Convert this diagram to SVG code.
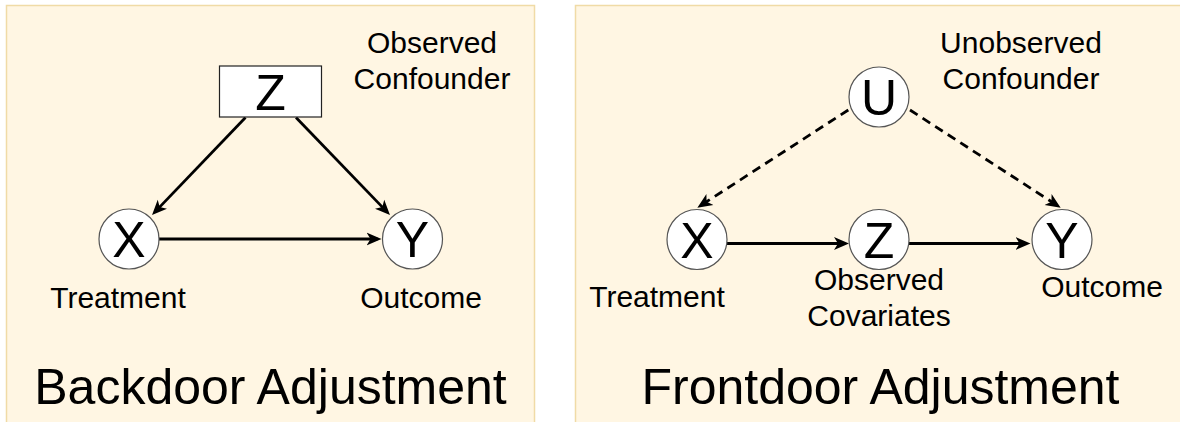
<svg xmlns="http://www.w3.org/2000/svg" width="1180" height="422" viewBox="0 0 1180 422">
  <style>
    .panel { fill: #fff6e3; stroke: #f0dba6; stroke-width: 1.5; }
    .node { fill: #ffffff; stroke: #555555; stroke-width: 1.2; }
    .box { fill: #ffffff; stroke: #222222; stroke-width: 1.2; }
    .var { font-family: "Liberation Sans", Arial, sans-serif; font-size: 50px; fill: #000; text-anchor: middle; }
    .lbl { font-family: "Liberation Sans", Arial, sans-serif; font-size: 30px; fill: #000; text-anchor: middle; }
    .title { font-family: "Liberation Sans", Arial, sans-serif; font-size: 50px; fill: #000; text-anchor: middle; }
    .edge { stroke: #000; stroke-width: 2.8; fill: none; marker-end: url(#arrow); }
    .dashed { stroke-dasharray: 9 6; }
  </style>
  <defs>
    <marker id="arrow" markerUnits="userSpaceOnUse" markerWidth="16" markerHeight="14" viewBox="0 0 16 14" refX="11" refY="7" orient="auto">
      <path d="M0,0.5 L15,7 L0,13.5 L4,7 Z" fill="#000"/>
    </marker>
  </defs>

  <rect width="1180" height="422" fill="#ffffff"/>

  <g id="panel-backdoor">
    <rect class="panel" x="6.5" y="5.5" width="528" height="440"/>
    <text class="title" x="270.5" y="404">Backdoor Adjustment</text>
  </g>
  <g id="panel-frontdoor">
    <rect class="panel" x="575.5" y="5.5" width="640" height="440"/>
    <text class="title" x="880.5" y="404">Frontdoor Adjustment</text>
  </g>

  <g id="connectors">
    <line class="edge" x1="245.5" y1="117.5" x2="154.8" y2="212.1"/>
    <line class="edge" x1="296" y1="117.5" x2="387.2" y2="212.1"/>
    <line class="edge" x1="159" y1="239" x2="377.5" y2="239"/>
    <line class="edge" x1="727" y1="243.5" x2="845" y2="243.5"/>
    <line class="edge" x1="909" y1="243.5" x2="1026.5" y2="243.5"/>
    <line class="edge dashed" x1="848.3" y1="110" x2="700.7" y2="205.5"/>
    <line class="edge dashed" x1="910" y1="110" x2="1057.3" y2="205.5"/>
  </g>

  <g id="bd-Z">
    <rect class="box" x="219.5" y="66" width="102" height="51"/>
    <text class="var" x="270.5" y="110">Z</text>
    <text class="lbl" x="432" y="53">Observed</text>
    <text class="lbl" x="432" y="89">Confounder</text>
  </g>
  <g id="bd-X">
    <circle class="node" cx="129" cy="239" r="30"/>
    <text class="var" x="129" y="257">X</text>
    <text class="lbl" x="118" y="307.5">Treatment</text>
  </g>
  <g id="bd-Y">
    <circle class="node" cx="412.5" cy="239" r="30"/>
    <text class="var" x="412.5" y="257">Y</text>
    <text class="lbl" x="421" y="307.5">Outcome</text>
  </g>

  <g id="fd-U">
    <circle class="node" cx="879" cy="97" r="30"/>
    <text class="var" x="879" y="115">U</text>
    <text class="lbl" x="1021" y="53">Unobserved</text>
    <text class="lbl" x="1021" y="89">Confounder</text>
  </g>
  <g id="fd-X">
    <circle class="node" cx="697" cy="239.5" r="30"/>
    <text class="var" x="697" y="257.5">X</text>
    <text class="lbl" x="657" y="307">Treatment</text>
  </g>
  <g id="fd-Z">
    <circle class="node" cx="879" cy="239.5" r="30"/>
    <text class="var" x="879" y="257.5">Z</text>
    <text class="lbl" x="879" y="290">Observed</text>
    <text class="lbl" x="879" y="326">Covariates</text>
  </g>
  <g id="fd-Y">
    <circle class="node" cx="1062" cy="239.5" r="30"/>
    <text class="var" x="1062" y="257.5">Y</text>
    <text class="lbl" x="1102" y="297">Outcome</text>
  </g>
</svg>
